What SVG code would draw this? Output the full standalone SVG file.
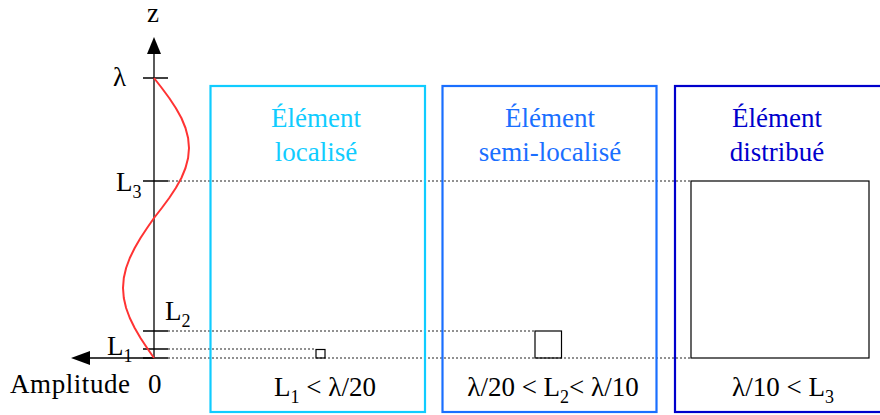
<svg xmlns="http://www.w3.org/2000/svg" width="880" height="415" viewBox="0 0 880 415">
<style>
text{font-family:"Liberation Serif","Times New Roman",serif;font-size:27px;fill:#000}
.title{text-anchor:middle}
.sub{font-size:18px}
.axis{stroke:#000;stroke-width:1.3;fill:none}
.tick{stroke:#000;stroke-width:1.5}
.dot{stroke:#222;stroke-width:1;stroke-dasharray:2 2;fill:none}
.sq{fill:none;stroke:#000;stroke-width:1.2}
.box{fill:none;stroke-width:2.2}
</style>
<rect width="880" height="415" fill="#fff"/>
<g id="connectors">
<line class="dot" x1="168" y1="181" x2="691" y2="181"/>
<line class="dot" x1="168" y1="331" x2="535" y2="331"/>
<line class="dot" x1="168" y1="349" x2="316" y2="349"/>
<line class="dot" x1="168" y1="358" x2="691" y2="358"/>
</g>
<g id="axes">
<line class="axis" x1="154" y1="358" x2="154" y2="50"/>
<polygon points="154,37 147,54 161,54" fill="#000"/>
<line class="axis" x1="154" y1="358" x2="86" y2="358"/>
<polygon points="71,358 90,351 90,365" fill="#000"/>
<line class="tick" x1="143" y1="78" x2="168" y2="78"/>
<line class="tick" x1="143" y1="181" x2="168" y2="181"/>
<line class="tick" x1="143" y1="331" x2="168" y2="331"/>
<line class="tick" x1="143" y1="349" x2="168" y2="349"/>
<line class="tick" x1="143" y1="358" x2="168" y2="358"/>
<text x="153" y="22" text-anchor="middle">z</text>
<text x="113" y="86">λ</text>
<text x="116" y="191">L<tspan class="sub" dy="7">3</tspan></text>
<text x="165" y="320">L<tspan class="sub" dy="7">2</tspan></text>
<text x="107" y="355">L<tspan class="sub" dy="7">1</tspan></text>
<text x="10" y="393" textLength="120">Amplitude</text>
<text x="148" y="393">0</text>
</g>
<g id="wave">
<polyline fill="none" stroke="#ff3333" stroke-width="2" stroke-linejoin="round" points="154,78 161.8,88 169.2,98 175.8,108 181.4,118 185.5,128 188.1,138 189,148 188.1,158 185.5,168 181.4,178 175.8,188 169.2,198 161.8,208 154,218 147.1,228 140.5,238 134.7,248 129.8,258 126.1,268 123.8,278 123,288 123.8,298 126.1,308 129.8,318 134.7,328 140.5,338 147.1,348 154,358"/>
</g>
<g id="node-localise">
<rect class="box" x="210.5" y="86" width="214.5" height="326" stroke="#10ccff"/>
<text class="title" x="316" y="127" style="fill:#10ccff">Élément</text>
<text class="title" x="316" y="161" style="fill:#10ccff">localisé</text>
<rect class="sq" x="316" y="349.5" width="9" height="8.5"/>
<text class="title" x="325" y="396">L<tspan class="sub" dy="7">1</tspan><tspan dy="-7"> &lt; λ/20</tspan></text>
</g>
<g id="node-semi">
<rect class="box" x="442.5" y="86" width="214" height="326" stroke="#1a6fff"/>
<text class="title" x="550" y="127" style="fill:#1a6fff">Élément</text>
<text class="title" x="550" y="161" style="fill:#1a6fff">semi-localisé</text>
<rect class="sq" x="535" y="331" width="26.5" height="27"/>
<text class="title" x="553" y="396">λ/20 &lt; L<tspan class="sub" dy="7">2</tspan><tspan dy="-7">&lt; λ/10</tspan></text>
</g>
<g id="node-distribue">
<rect class="box" x="675" y="86" width="210" height="326" stroke="#0000cc"/>
<text class="title" x="777" y="127" style="fill:#0000cc">Élément</text>
<text class="title" x="777" y="161" style="fill:#0000cc">distribué</text>
<rect class="sq" x="691" y="181" width="178" height="177"/>
<text class="title" x="783" y="396">λ/10 &lt; L<tspan class="sub" dy="7">3</tspan></text>
</g>
</svg>
